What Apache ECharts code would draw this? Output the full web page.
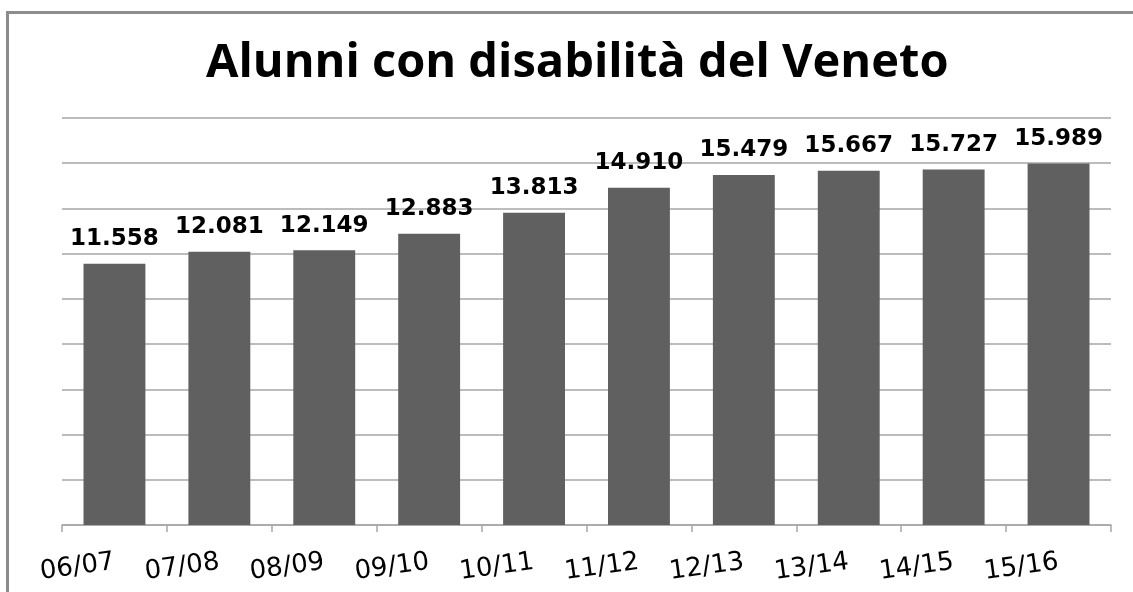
<!DOCTYPE html>
<html>
<head>
<meta charset="utf-8">
<script src="https://cdn.jsdelivr.net/npm/echarts@6/dist/echarts.min.js"></script>
<style>
html,body{margin:0;padding:0;background:#fff;}
#chart{width:1133px;height:592px;}
</style>
</head>
<body>
<div id="chart"></div>
<script>
var categories = ['06/07','07/08','08/09','09/10','10/11','11/12','12/13','13/14','14/15','15/16'];
var values = [11558, 12081, 12149, 12883, 13813, 14910, 15479, 15667, 15727, 15989];
var titleText = 'Alunni con disabilità del Veneto';

function fmt(v){
  var s = String(v);
  return s.slice(0, s.length-3) + '.' + s.slice(s.length-3);
}

var chart = echarts.init(document.getElementById('chart'));
chart.setOption({
  animation: false,
  backgroundColor: '#ffffff',
  title: {
    text: titleText,
    left: 201,
    top: 35,
    padding: 5,
    textStyle: {fontFamily: 'Open Sans', fontWeight: 'bold', fontSize: 47, color: '#000'}
  },
  graphic: [{
    type: 'rect',
    shape: {x: 7.5, y: 12.5, width: 1200, height: 700},
    style: {fill: 'none', stroke: '#8c8c8c', lineWidth: 3}
  }],
  grid: {left: 62, right: 22, top: 118, bottom: 67},
  xAxis: {
    type: 'category',
    data: categories,
    boundaryGap: true,
    axisLine: {lineStyle: {color: '#a6a6a6', width: 1.5}},
    axisTick: {show: true, length: 7, alignWithLabel: false, lineStyle: {color: '#a6a6a6', width: 1.5}},
    axisLabel: {rotate: 8, margin: 37, fontFamily: 'DejaVu Sans', fontSize: 26, color: '#000'}
  },
  yAxis: {
    type: 'value',
    min: 0, max: 18000, interval: 2000,
    axisLine: {show: false},
    axisTick: {show: false},
    axisLabel: {show: false},
    splitLine: {lineStyle: {color: '#a6a6a6', width: 1.5}}
  },
  series: [{
    type: 'bar',
    data: values,
    barWidth: '59%',
    itemStyle: {color: '#606060'},
    label: {
      show: true, position: 'top', distance: 13,
      formatter: function(p){ return fmt(p.value); },
      fontFamily: 'DejaVu Sans', fontWeight: 'bold', fontSize: 23, color: '#000'
    }
  }]
});
</script>
</body>
</html>
